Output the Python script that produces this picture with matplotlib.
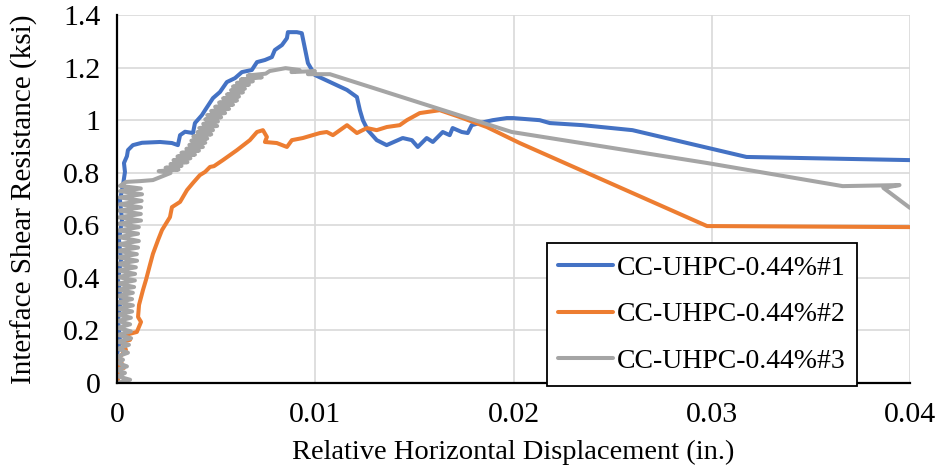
import matplotlib.pyplot as plt

# relative horizontal displacement (in.) and interface shear resistance (ksi)
disp1 = [0, 0.0001, 0, 0.00015, 0.00005, 0.0002, 0.00005, 0.0002, 0.0001, 0.00025,
         0.00015, 0.0003, 0.0004, 0.00035, 0.0005, 0.00055, 0.0008, 0.00126, 0.00217,
         0.00277, 0.00307, 0.00318, 0.00343, 0.00383, 0.00393, 0.00428, 0.00444, 0.00484,
         0.00519, 0.00554, 0.00595, 0.0063, 0.0068, 0.00706, 0.00746, 0.00781, 0.00796,
         0.00832, 0.00857, 0.00862, 0.00907, 0.00932, 0.00963, 0.00998, 0.0116, 0.0121,
         0.01225, 0.0124, 0.01265, 0.0131, 0.0136, 0.01441, 0.01487, 0.01517, 0.01562,
         0.01593, 0.01643, 0.01678, 0.01693, 0.01739, 0.01769, 0.01789, 0.0183, 0.01895,
         0.01966, 0.01997, 0.02132, 0.02183, 0.02349, 0.026, 0.03175, 0.04]
shear1 = [0, 0.049, 0.107, 0.164, 0.24, 0.316, 0.392, 0.468, 0.544, 0.62,
          0.696, 0.753, 0.803, 0.837, 0.863, 0.886, 0.905, 0.914, 0.917,
          0.913, 0.905, 0.943, 0.956, 0.951, 0.989, 1.019, 1.038, 1.084,
          1.107, 1.145, 1.160, 1.183, 1.191, 1.221, 1.229, 1.240, 1.267,
          1.286, 1.312, 1.335, 1.335, 1.331, 1.217, 1.172, 1.115, 1.088,
          1.038, 1.0, 0.962, 0.924, 0.905, 0.932, 0.924, 0.898, 0.932,
          0.917, 0.955, 0.943, 0.97, 0.955, 0.951, 0.981, 0.989, 1.0,
          1.008, 1.008, 1.0, 0.989, 0.981, 0.962, 0.86, 0.848]

disp2 = [0, 0.0001, 0.00005, 0.00035, 0.0001, 0.00045, 0.00025, 0.00066, 0.00045, 0.001,
         0.00121, 0.00106, 0.00111, 0.00131, 0.00146, 0.00166, 0.00181, 0.00207, 0.00227,
         0.00267, 0.00277, 0.00318, 0.00353, 0.00383, 0.00418, 0.00444, 0.00469, 0.00489,
         0.00534, 0.00605, 0.0067, 0.00706, 0.00736, 0.00756, 0.00746, 0.00806, 0.00857,
         0.00882, 0.00937, 0.01023, 0.01058, 0.01089, 0.0116, 0.0121, 0.0126, 0.0131,
         0.01361, 0.01426, 0.01462, 0.01527, 0.01628, 0.01729, 0.01865, 0.02031, 0.02976, 0.04]
shear2 = [0, 0.03, 0.068, 0.057, 0.095, 0.126, 0.156, 0.164, 0.183, 0.194,
          0.232, 0.251, 0.297, 0.354, 0.392, 0.449, 0.491, 0.544, 0.582,
          0.631, 0.669, 0.689, 0.734, 0.761, 0.791, 0.803, 0.822, 0.825,
          0.848, 0.886, 0.924, 0.955, 0.962, 0.936, 0.917, 0.913, 0.898,
          0.924, 0.932, 0.951, 0.955, 0.943, 0.981, 0.951, 0.97, 0.962,
          0.974, 0.981, 1.0, 1.027, 1.038, 1.012, 0.974, 0.913, 0.597, 0.593]

disp3 = [0, 0.00066, 0.00005, 0.0004, 0, 0.0005, 0.00005, 0.0003, 0, 0.00055,
         0.00005, 0.0006, 0.00005, 0.00071, 0.00005, 0.0007, 0.00005, 0.00066, 0.00005,
         0.0007, 0.00005, 0.00076, 0.00005, 0.0008, 0.00005, 0.00076, 0.00005, 0.0008,
         0.00005, 0.00086, 0.00005, 0.0009, 0.00005, 0.00091, 0.00005, 0.00095, 0.00005,
         0.00101, 0.00005, 0.001, 0.00005, 0.00106, 0.0001, 0.0011, 0.0001, 0.00106,
         0.0001, 0.0011, 0.0001, 0.00121, 0.0001, 0.0012, 0.0001, 0.00121, 0.00015,
         0.00124, 0.00015, 0.00126, 0.00015, 0.0012, 0.00015, 0.00045, 0.00116, 0.00181,
         0.0027, 0.0021, 0.0031, 0.00245, 0.00325, 0.0027, 0.00355, 0.00285, 0.0037,
         0.00305, 0.00393, 0.00325, 0.00413, 0.0035, 0.00433, 0.00365, 0.00445, 0.00375,
         0.00455, 0.00385, 0.00475, 0.00405, 0.00484, 0.00415, 0.00505, 0.00435, 0.00509,
         0.00445, 0.00525, 0.00455, 0.00545, 0.00475, 0.00565, 0.00495, 0.00585, 0.00515,
         0.00605, 0.00535, 0.00615, 0.00555, 0.00635, 0.00575, 0.00645, 0.00585, 0.00665,
         0.00605, 0.00685, 0.00625, 0.0073, 0.0066, 0.0075, 0.0077, 0.0085, 0.0092,
         0.0088, 0.00998, 0.00963, 0.01074, 0.01991, 0.02976, 0.0366, 0.03947, 0.03866, 0.04]
shear3 = [0, 0.012, 0.025, 0.038, 0.05, 0.063, 0.076, 0.088, 0.1, 0.115,
          0.13, 0.145, 0.157, 0.17, 0.183, 0.196, 0.21, 0.223, 0.236,
          0.248, 0.26, 0.272, 0.283, 0.295, 0.307, 0.319, 0.331, 0.343,
          0.355, 0.365, 0.378, 0.39, 0.403, 0.415, 0.428, 0.44, 0.453,
          0.465, 0.478, 0.49, 0.503, 0.515, 0.528, 0.54, 0.555, 0.568,
          0.58, 0.593, 0.606, 0.618, 0.63, 0.643, 0.656, 0.668, 0.68,
          0.693, 0.706, 0.718, 0.73, 0.74, 0.75, 0.765, 0.768, 0.772,
          0.799, 0.806, 0.812, 0.819, 0.826, 0.833, 0.84, 0.848, 0.855,
          0.862, 0.869, 0.876, 0.884, 0.891, 0.898, 0.906, 0.914, 0.922,
          0.93, 0.938, 0.946, 0.954, 0.962, 0.97, 0.978, 0.986, 0.995,
          1.003, 1.011, 1.019, 1.027, 1.035, 1.043, 1.051, 1.059, 1.067,
          1.075, 1.083, 1.09, 1.098, 1.106, 1.114, 1.12, 1.128, 1.135,
          1.142, 1.148, 1.155, 1.163, 1.17, 1.177, 1.187, 1.198, 1.191,
          1.183, 1.187, 1.175, 1.175, 0.955, 0.837, 0.749, 0.753, 0.742, 0.666]

labels = ['CC-UHPC-0.44%#1', 'CC-UHPC-0.44%#2', 'CC-UHPC-0.44%#3']
colors = ['#4472C4', '#ED7D31', '#A5A5A5']

plt.rcParams['font.family'] = ['Liberation Serif', 'DejaVu Serif']

fig = plt.figure(figsize=(9.4, 4.71), dpi=100)
ax = fig.add_axes([0.1245, 0.187, 0.8436, 0.781])

for xs, ys, c, lab in zip([disp1, disp2, disp3], [shear1, shear2, shear3], colors, labels):
    ax.plot(xs, ys, color=c, lw=2.9, label=lab, solid_joinstyle='round', solid_capstyle='round')

ax.set_xlim(0, 0.04)
ax.set_ylim(0, 1.4)
ax.set_xticks([0, 0.01, 0.02, 0.03, 0.04])
ax.set_xticklabels(['0', '0.01', '0.02', '0.03', '0.04'])
ax.set_yticks([0, 0.2, 0.4, 0.6, 0.8, 1.0, 1.2, 1.4])
ax.set_yticklabels(['0', '0.2', '0.4', '0.6', '0.8', '1', '1.2', '1.4'])
ax.tick_params(length=0, labelsize=21.5)
ax.tick_params(axis='x', pad=14)
ax.tick_params(axis='y', pad=12)
ax.grid(True, color='#d9d9d9', lw=1.2)
ax.set_axisbelow(True)
for s in ['top', 'right']:
    ax.spines[s].set_visible(False)
for s in ['left', 'bottom']:
    ax.spines[s].set_linewidth(1.6)
    ax.spines[s].set_zorder(3)

ax.set_xlabel('Relative Horizontal Displacement (in.)', fontsize=20.5, labelpad=8)
ax.set_ylabel('Interface Shear Resistance (ksi)', fontsize=21, labelpad=18)

leg = ax.legend(loc='lower left', bbox_to_anchor=(0.542, -0.008), fontsize=20,
                frameon=True, fancybox=False, framealpha=1, edgecolor='black',
                handlelength=1.95, handletextpad=0.15, labelspacing=0.77,
                borderpad=0.42, borderaxespad=0)
leg.get_frame().set_linewidth(1.3)
leg.set_zorder(5)

fig.savefig('out.png', dpi=100)
